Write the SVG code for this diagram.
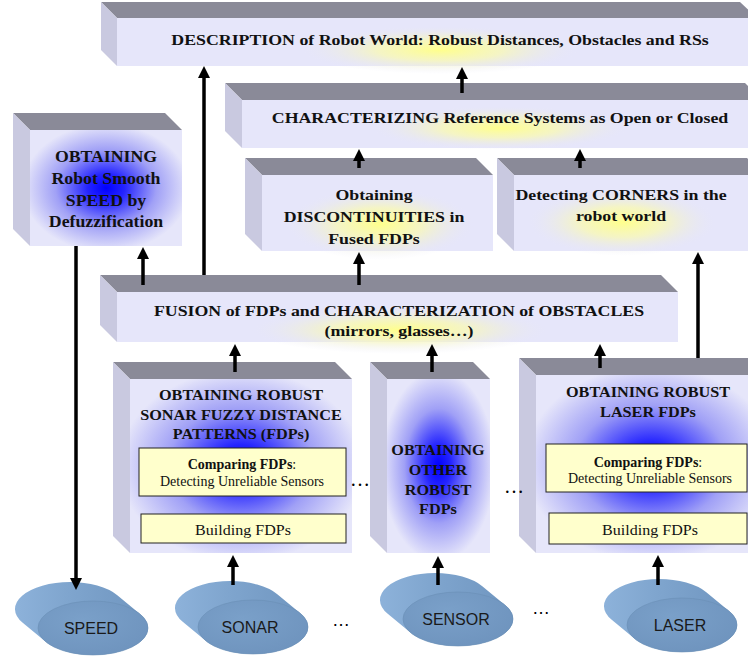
<svg xmlns="http://www.w3.org/2000/svg" width="748" height="657" viewBox="0 0 748 657">
<defs>
<style>
.top{fill:#8a8a98}
.side{fill:#c9c9e0}
.front{fill:#e6e6fa}
.h{font-family:"Liberation Serif","Times New Roman",serif;font-weight:bold;font-size:15.5px;fill:#111;text-anchor:middle}
.hs{font-family:"Liberation Serif","Times New Roman",serif;font-weight:bold;font-size:15px;fill:#111;text-anchor:middle}
.n{font-family:"Liberation Serif","Times New Roman",serif;font-size:14px;fill:#111;text-anchor:middle}
.nb{font-family:"Liberation Serif","Times New Roman",serif;font-size:15px;fill:#111;text-anchor:middle}
.inner{fill:#ffffcc;stroke:#222;stroke-width:1}
.ct{font-family:"Liberation Sans",Arial,sans-serif;font-size:16px;fill:#1a1a1a;text-anchor:middle}
.dots{font-family:"Liberation Serif","Times New Roman",serif;font-size:20px;fill:#000;text-anchor:middle}
.dotss{font-family:"Liberation Sans",Arial,sans-serif;font-size:18px;fill:#000;text-anchor:middle}
.conn{stroke:#000;stroke-width:3.5;fill:none;marker-end:url(#ah)}
.cbody{fill:url(#cylBody)}
.cfront{fill:url(#cylFront);stroke:#6a8eb6;stroke-width:0.6}
</style>
<radialGradient id="glowY" cx="0.5" cy="0.5" r="0.5">
<stop offset="0" stop-color="#ffff8c"/>
<stop offset="0.45" stop-color="#f8f8b8" stop-opacity="0.8"/>
<stop offset="1" stop-color="#e6e6fa" stop-opacity="0"/>
</radialGradient>
<radialGradient id="glowB" cx="0.5" cy="0.5" r="0.55">
<stop offset="0" stop-color="#0000ff"/>
<stop offset="0.22" stop-color="#2424ff"/>
<stop offset="0.6" stop-color="#a0a0f6"/>
<stop offset="1" stop-color="#e6e6fa"/>
</radialGradient>
<linearGradient id="cylBody" x1="0" y1="0" x2="1" y2="0">
<stop offset="0" stop-color="#8db2da"/>
<stop offset="0.4" stop-color="#7fa5ce"/>
<stop offset="1" stop-color="#6f95bf"/>
</linearGradient>
<radialGradient id="cylFront" cx="0.4" cy="0.35" r="0.75">
<stop offset="0" stop-color="#7aa0c9"/>
<stop offset="1" stop-color="#6e93bd"/>
</radialGradient>
<marker id="ah" viewBox="0 0 12 12" refX="5" refY="6" markerWidth="12" markerHeight="12" markerUnits="userSpaceOnUse" orient="auto">
<path d="M0,0 L12,6 L0,12 z" fill="#000"/>
</marker>
<path id="cyl" d="M24.3,-32.8 A55,27 0 0 0 -23,-46 A55,27 0 0 0 -70.3,-5.2 L-47.3,13.8 A55,27 0 0 0 0,27 A55,27 0 0 0 47.3,-13.8 Z"/>
</defs>

<g id="description">
<polygon class="top" points="101,2 740,2 757,18 117,18"/>
<polygon class="side" points="101,2 117,18 117,66 101,50"/>
<rect class="front" x="117" y="18" width="640" height="48"/>
<ellipse cx="440" cy="50" rx="140" ry="24" fill="url(#glowY)"/>
<g transform="translate(440,0) scale(1.15,1)"><text class="h" x="0" y="45">DESCRIPTION of Robot World: Robust Distances, Obstacles and RSs</text></g>
</g>

<g id="characterizing">
<polygon class="top" points="225,83 745,83 762,100 242,100"/>
<polygon class="side" points="225,83 242,100 242,148 225,131"/>
<rect class="front" x="242" y="100" width="520" height="48"/>
<ellipse cx="500" cy="128" rx="130" ry="22" fill="url(#glowY)"/>
<g transform="translate(500,0) scale(1.15,1)"><text class="h" x="0" y="123">CHARACTERIZING Reference Systems as Open or Closed</text></g>
</g>

<g id="discontinuities">
<polygon class="top" points="245,158 476,158 493,175 262,175"/>
<polygon class="side" points="245,158 262,175 262,251 245,234"/>
<rect class="front" x="262" y="175" width="231" height="76"/>
<ellipse cx="380" cy="224" rx="95" ry="36" fill="url(#glowY)"/>
<g transform="translate(374,0) scale(1.15,1)">
<text class="h" x="0" y="200">Obtaining</text>
<text class="h" x="0" y="222">DISCONTINUITIES in</text>
<text class="h" x="0" y="244">Fused FDPs</text>
</g>
</g>

<g id="corners">
<polygon class="top" points="497,158 747,158 764,175 514,175"/>
<polygon class="side" points="497,158 514,175 514,251 497,234"/>
<rect class="front" x="514" y="175" width="250" height="76"/>
<ellipse cx="622" cy="222" rx="95" ry="34" fill="url(#glowY)"/>
<g transform="translate(621,0) scale(1.15,1)">
<text class="h" x="0" y="200">Detecting CORNERS in the</text>
<text class="h" x="0" y="221">robot world</text>
</g>
</g>

<g id="speed-box">
<polygon class="top" points="13,113 165,113 182,130 30,130"/>
<polygon class="side" points="13,113 30,130 30,246 13,229"/>
<rect x="30" y="130" width="152" height="116" fill="url(#glowB)"/>
<g transform="translate(106,0) scale(1.11,1)">
<text class="h" x="0" y="162" style="font-size:16px">OBTAINING</text>
<text class="h" x="0" y="184" style="font-size:16px">Robot Smooth</text>
<text class="h" x="0" y="206" style="font-size:16px">SPEED by</text>
<text class="h" x="0" y="227" style="font-size:16px">Defuzzification</text>
</g>
</g>

<g id="fusion">
<polygon class="top" points="100,275 661,275 678,292 117,292"/>
<polygon class="side" points="100,275 117,292 117,342 100,325"/>
<rect class="front" x="117" y="292" width="561" height="50"/>
<ellipse cx="400" cy="330" rx="150" ry="24" fill="url(#glowY)"/>
<g transform="translate(399,0) scale(1.15,1)">
<text class="h" x="0" y="316">FUSION of FDPs and CHARACTERIZATION of OBSTACLES</text>
<text class="h" x="0" y="336">(mirrors, glasses…)</text>
</g>
</g>

<g id="sonar-box">
<polygon class="top" points="113,362 335,362 352,379 130,379"/>
<polygon class="side" points="113,362 130,379 130,553 113,536"/>
<rect x="130" y="379" width="222" height="174" fill="url(#glowB)"/>
<g transform="translate(241,0) scale(1.08,1)">
<text class="hs" x="0" y="400">OBTAINING ROBUST</text>
<text class="hs" x="0" y="420">SONAR FUZZY DISTANCE</text>
<text class="hs" x="0" y="439">PATTERNS (FDPs)</text>
</g>
<rect class="inner" x="139" y="448" width="207" height="48"/>
<text class="n" x="242" y="469"><tspan font-weight="bold">Comparing FDPs</tspan>:</text>
<text class="n" x="242" y="486">Detecting Unreliable Sensors</text>
<rect class="inner" x="141" y="514" width="205" height="29"/>
<g transform="translate(243,0) scale(1.07,1)"><text class="nb" x="0" y="535">Building FDPs</text></g>
</g>

<g id="other-box">
<polygon class="top" points="370,362 473,362 490,379 387,379"/>
<polygon class="side" points="370,362 387,379 387,553 370,536"/>
<rect x="387" y="379" width="103" height="174" fill="url(#glowB)"/>
<g transform="translate(438,0) scale(1.08,1)">
<text class="hs" x="0" y="455">OBTAINING</text>
<text class="hs" x="0" y="475">OTHER</text>
<text class="hs" x="0" y="495">ROBUST</text>
<text class="hs" x="0" y="514">FDPs</text>
</g>
</g>

<g id="laser-box">
<polygon class="top" points="519,358 749,358 766,375 536,375"/>
<polygon class="side" points="519,358 536,375 536,553 519,536"/>
<rect x="536" y="375" width="230" height="178" fill="url(#glowB)"/>
<g transform="translate(648,0) scale(1.08,1)">
<text class="hs" x="0" y="397">OBTAINING ROBUST</text>
<text class="hs" x="0" y="417">LASER FDPs</text>
</g>
<rect class="inner" x="546" y="444" width="201" height="48"/>
<text class="n" x="648" y="467"><tspan font-weight="bold">Comparing FDPs</tspan>:</text>
<text class="n" x="650" y="483">Detecting Unreliable Sensors</text>
<rect class="inner" x="549" y="513" width="198" height="31"/>
<g transform="translate(650,0) scale(1.07,1)"><text class="nb" x="0" y="535">Building FDPs</text></g>
</g>

<g id="speed">
<g transform="translate(93,628)"><use href="#cyl" class="cbody"/><ellipse class="cfront" cx="0" cy="0" rx="55" ry="27"/></g>
<text class="ct" x="91" y="634">SPEED</text>
</g>
<g id="sonar">
<g transform="translate(253,627)"><use href="#cyl" class="cbody"/><ellipse class="cfront" cx="0" cy="0" rx="55" ry="27"/></g>
<text class="ct" x="250" y="633">SONAR</text>
</g>
<g id="sensor">
<g transform="translate(458,619)"><use href="#cyl" class="cbody"/><ellipse class="cfront" cx="0" cy="0" rx="55" ry="27"/></g>
<text class="ct" x="456" y="625">SENSOR</text>
</g>
<g id="laser">
<g transform="translate(682,625)"><use href="#cyl" class="cbody"/><ellipse class="cfront" cx="0" cy="0" rx="55" ry="27"/></g>
<text class="ct" x="680" y="631">LASER</text>
</g>

<g id="ellipsis-marks">
<text class="dots" x="360" y="486">…</text>
<text class="dots" x="514" y="493">…</text>
<text class="dotss" x="341" y="626">…</text>
<text class="dotss" x="541" y="614">…</text>
</g>

<g id="connectors">
<path class="conn" d="M204,275 V73"/>
<path class="conn" d="M462,93 V74"/>
<path class="conn" d="M359,168 V156"/>
<path class="conn" d="M580,168 V156"/>
<path class="conn" d="M143,285 V254"/>
<path class="conn" d="M359,285 V259"/>
<path class="conn" d="M698,358 V259"/>
<path class="conn" d="M76,246 V583"/>
<path class="conn" d="M235,372 V351"/>
<path class="conn" d="M432,372 V351"/>
<path class="conn" d="M600,368 V351"/>
<path class="conn" d="M233,585 V562"/>
<path class="conn" d="M438,585 V563"/>
<path class="conn" d="M658,585 V562"/>
</g>
</svg>
